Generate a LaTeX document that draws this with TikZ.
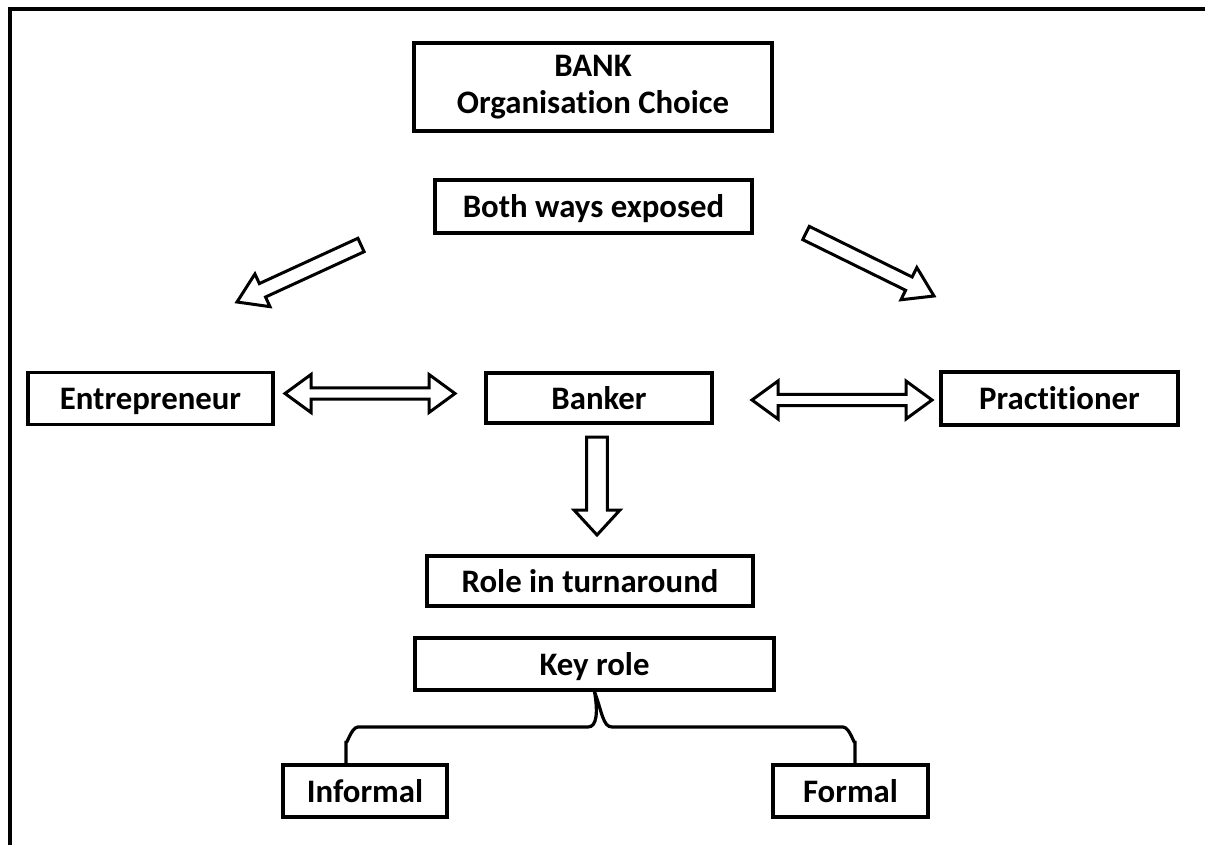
\documentclass[tikz,border=0pt]{standalone}
\usepackage{fontspec}
\setmainfont{Carlito}[Ligatures=NoCommon]
\usetikzlibrary{positioning,calc}

\tikzset{
  box/.style={rectangle,draw,line width=1.6pt,inner sep=0pt,align=center,
    text height=13.8pt,text depth=2.6pt,
    font=\bfseries\fontsize{16.4}{18.5}\selectfont},
  fatarrow/.style={draw,line width=1.5pt,line join=miter}
}
% block arrow from #1 to #2: shaft half width #3, head half width #4, head length #5 (pt)
\newcommand{\blockarrow}[5]{%
  \draw[fatarrow] let \p1=($(#2)-(#1)$), \n1={atan2(\y1,\x1)}, \n2={veclen(\x1,\y1)} in
    [shift={(#1)},rotate=\n1]
    (0pt,-#3pt) -- (\n2-#5pt,-#3pt) -- (\n2-#5pt,-#4pt) -- (\n2,0pt)
    -- (\n2-#5pt,#4pt) -- (\n2-#5pt,#3pt) -- (0pt,#3pt) -- cycle;}
% same, with a head at both ends
\newcommand{\twowayarrow}[5]{%
  \draw[fatarrow] let \p1=($(#2)-(#1)$), \n1={atan2(\y1,\x1)}, \n2={veclen(\x1,\y1)} in
    [shift={(#1)},rotate=\n1]
    (0pt,0pt) -- (#5pt,#4pt) -- (#5pt,#3pt) -- (\n2-#5pt,#3pt) -- (\n2-#5pt,#4pt) -- (\n2,0pt)
    -- (\n2-#5pt,-#4pt) -- (\n2-#5pt,-#3pt) -- (#5pt,-#3pt) -- (#5pt,-#4pt) -- cycle;}

\begin{document}
\begin{tikzpicture}[x=0.5pt,y=-0.5pt]
	\useasboundingbox (0,0) rectangle (1205,845);
	\draw[line width=2.4pt] (10,845) -- (10,9) -- (1205,9);

	\node[box,text height=,text depth=,minimum width=179pt,minimum height=44pt] (bank) at (593,87) {BANK\\Organisation Choice};
	\node[box,minimum width=158.5pt,minimum height=26.5pt] (both) at (593.5,206.5) {Both ways exposed};
	\node[box,minimum width=122.5pt,minimum height=26pt] (entre) at (150.5,398.5) {Entrepreneur};
	\node[box,minimum width=113pt,minimum height=25pt] (banker) at (599,398) {Banker};
	\node[box,minimum width=118.5pt,minimum height=26.5pt] (pract) at (1059.5,398.5) {Practitioner};
	\node[box,minimum width=163pt,minimum height=25pt] (role) at (590,581) {Role in turnaround};
	\node[box,minimum width=179.5pt,minimum height=26pt] (key) at (594.5,664) {Key role};
	\node[box,minimum width=82pt,minimum height=26pt] (informal) at (365,791) {Informal};
	\node[box,minimum width=77.5pt,minimum height=26pt] (formal) at (850.5,791) {Formal};

	% block arrows
	\coordinate (lt) at (361,245);   \coordinate (lh) at (237,302);
	\coordinate (rt) at (806,233);   \coordinate (rh) at (934,296);
	\coordinate (dt) at (597,437);   \coordinate (dh) at (597,535);
	\coordinate (ea) at (285,393.5); \coordinate (eb) at (455,393.5);
	\coordinate (pa) at (752,400);   \coordinate (pb) at (932,400);
	\blockarrow{lt}{lh}{3.7}{9}{14}
	\blockarrow{rt}{rh}{3.7}{9}{14}
	\blockarrow{dt}{dh}{5.2}{11.5}{12.5}
	\twowayarrow{ea}{eb}{2.8}{9.5}{13}
	\twowayarrow{pa}{pb}{2.8}{9.5}{13}

	% brace under key role
	\draw[line width=1.6pt] ($(informal.north)+(-19,0)$) -- (346,741) to[out=-90,in=180] (358,727)
	  -- (588,727) .. controls (597,727) and (598,712) .. (key.south)
	  .. controls (602,712) and (603,727) .. (612,727) -- (843,727)
	  to[out=0,in=-90] (855,741) -- ($(formal.north)+(4.5,0)$);
\end{tikzpicture}
\end{document}
